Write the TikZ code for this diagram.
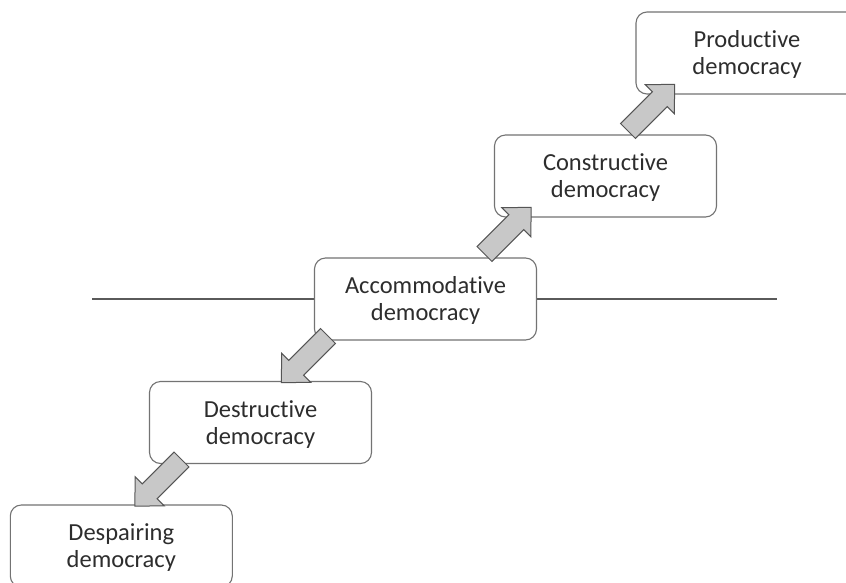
\documentclass[tikz,border=0pt]{standalone}
\usepackage{fontspec}
\setmainfont{Carlito}[Ligatures=NoCommon]
\definecolor{txt}{RGB}{45,45,45}
\definecolor{boxline}{RGB}{115,115,115}
\definecolor{rulecol}{RGB}{90,90,90}
\definecolor{arrfill}{RGB}{200,200,200}
\definecolor{arrline}{RGB}{85,85,85}
\newcommand\blockarrow[3]{%
  \path[blockarr, shift={(#1,#2)}, rotate=#3]
    (0,-10.5) -- (45,-10.5) -- (45,-20.5) -- (66,0) -- (45,20.5) -- (45,10.5) -- (0,10.5) -- cycle;}
\newcommand\topstrut{\rule{0pt}{20pt}}
\begin{document}
\begin{tikzpicture}[x=1pt,y=-1pt,
  stage/.style={draw=boxline, line width=1.1pt, fill=white, rounded corners=11pt,
    minimum width=222pt, minimum height=82pt, inner sep=0pt, align=center,
    text=txt, font=\fontsize{24.5}{27}\selectfont},
  blockarr/.style={draw=arrline, line width=1pt, fill=arrfill, line join=miter}]
\useasboundingbox (0,0) rectangle (846,582);
\fill[white] (0,0) rectangle (846,582);
\coordinate (lineL) at (92,299);
\coordinate (lineR) at (777,299);
\draw[line width=1.4pt, draw=rulecol] (lineL) -- (lineR);
\node[stage] (prod) at (747,53) {\topstrut Productive\\democracy};
\node[stage] (cons) at (605.5,176) {\topstrut Constructive\\democracy};
\node[stage] (acc) at (425.5,299) {\topstrut Accommodative\\democracy};
\node[stage] (dest) at (260.5,422.5) {\topstrut Destructive\\democracy};
\node[stage] (desp) at (121.3,546) {\topstrut Despairing\\democracy};
\blockarrow{484.5}{254}{45}
\blockarrow{628}{131}{45}
\blockarrow{328}{336}{225}
\blockarrow{181.5}{459.5}{225}
\end{tikzpicture}
\end{document}
